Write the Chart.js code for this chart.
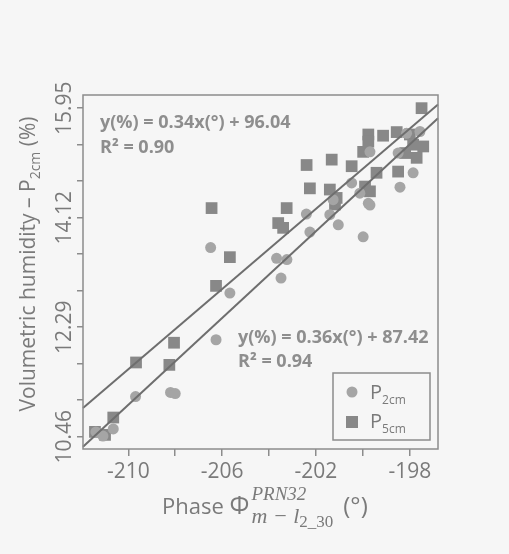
<!DOCTYPE html>
<html>

<head>
    <meta charset="utf-8">
    <title>Phase vs humidity</title>
    <script src="https://cdn.jsdelivr.net/npm/chart.js@4.4.1/dist/chart.umd.min.js"></script>
    <style>
        body { margin: 0; background: #f6f6f6; }
    </style>
</head>

<body>
    <canvas id="myChart" width="509" height="554"></canvas>
    <script>
        // P2cm (circles) - phase (deg) / humidity (%)
        const p2X = [-206.49, -206.26, -205.67, -208.2, -208.0, -209.69, -210.64, -211.38, -211.08,
            -203.68, -203.24, -203.49, -202.41, -202.26, -201.05, -201.41, -199.99, -199.77, -200.13,
            -200.48, -199.70, -198.42, -197.86, -198.50, -197.57, -198.14, -201.27, -199.70];
        const p2Y = [13.62, 12.08, 12.86, 11.20, 11.18, 11.13, 10.59, 10.54, 10.47,
            13.44, 13.42, 13.11, 14.18, 13.88, 14.00, 14.17, 13.80, 14.36, 14.53,
            14.70, 15.22, 14.63, 14.87, 15.20, 15.56, 15.53, 14.42, 14.33];

        // P5cm (squares)
        const p5X = [-197.50, -199.77, -199.77, -199.14, -198.56, -198.00, -199.99, -201.33, -202.40,
            -200.48, -202.26, -201.41, -201.12, -201.19, -199.91, -199.70, -199.42, -198.50, -197.86,
            -197.43, -197.71, -203.25, -203.61, -203.40, -206.45, -205.67, -206.26, -208.05, -209.67,
            -208.25, -210.64, -211.42, -210.99, -198.20];
        const p5Y = [15.95, 15.51, 15.39, 15.49, 15.55, 15.51, 15.22, 15.09, 15.00,
            14.98, 14.61, 14.59, 14.45, 14.34, 14.64, 14.56, 14.87, 14.89, 15.34,
            15.31, 15.12, 14.28, 14.03, 13.95, 14.28, 13.46, 12.98, 12.03, 11.70,
            11.66, 10.78, 10.54, 10.49, 15.20];

        // trend lines (ends)
        const fitX = [-211.93, -196.8];
        const fit5Y = [10.94, 16.01];
        const fit2Y = [10.29, 15.78];

        const xTicks = [-210, -208, -206, -204, -202, -200, -198];
        const xLabels = ['-210', '', '-206', '', '-202', '', '-198'];
        const yTicks = [10.46, 11.07, 11.68, 12.29, 12.90, 13.51, 14.12, 14.73, 15.34, 15.95];
        const yLabels = ['10.46', '', '', '12.29', '', '', '14.12', '', '', '15.95'];

        const eq5 = ['y(%) = 0.34x(°) + 96.04', 'R² = 0.90'];
        const eq2 = ['y(%) = 0.36x(°) + 87.42', 'R² = 0.94'];

        const grey = '#7a7a7a';
        const FONT = '"Open Sans", sans-serif';
        const MATH = '"Liberation Serif", serif';

        function pts(xs, ys) {
            return xs.map(function (x, i) { return { x: x, y: ys[i] }; });
        }

        // draws pieces of text one after another, each with its own font and shift
        function drawParts(ctx, parts, x, y) {
            let cx = x;
            parts.forEach(function (p) {
                ctx.font = p.font;
                ctx.fillText(p.text, cx, y + (p.dy || 0));
                cx += ctx.measureText(p.text).width;
            });
            return cx;
        }
        function partsWidth(ctx, parts) {
            let w = 0;
            parts.forEach(function (p) { ctx.font = p.font; w += ctx.measureText(p.text).width; });
            return w;
        }

        const extras = {
            id: 'extras',
            beforeDraw(chart) {
                const ctx = chart.ctx;
                ctx.save();
                ctx.fillStyle = '#f6f6f6';
                ctx.fillRect(0, 0, chart.width, chart.height);
                ctx.restore();
            },
            afterDraw(chart) {
                const ctx = chart.ctx;
                const a = chart.chartArea;
                const ys = chart.scales.y;
                ctx.save();

                // frame
                ctx.strokeStyle = '#8c8c8c';
                ctx.lineWidth = 1.5;
                ctx.strokeRect(a.left, a.top, a.right - a.left, a.bottom - a.top);

                // y tick labels (rotated)
                ctx.fillStyle = grey;
                ctx.font = '21px ' + FONT;
                ctx.textAlign = 'center';
                ctx.textBaseline = 'middle';
                yTicks.forEach(function (v, i) {
                    if (!yLabels[i]) return;
                    ctx.save();
                    ctx.translate(65, ys.getPixelForValue(v));
                    ctx.rotate(-Math.PI / 2);
                    ctx.fillText(yLabels[i], 0, 0);
                    ctx.restore();
                });

                // y title
                ctx.textAlign = 'left';
                ctx.textBaseline = 'alphabetic';
                const yParts = [
                    { text: 'Volumetric humidity – P', font: '21px ' + FONT },
                    { text: '2cm', font: '14px ' + FONT, dy: 5 },
                    { text: ' (%)', font: '21px ' + FONT }
                ];
                ctx.save();
                ctx.translate(35, 264);
                ctx.rotate(-Math.PI / 2);
                drawParts(ctx, yParts, -partsWidth(ctx, yParts) / 2, 0);
                ctx.restore();

                // x title
                let x0 = 162, base = 514;
                let cx = drawParts(ctx, [{ text: 'Phase ', font: '22px ' + FONT }, { text: 'Φ', font: '25px ' + FONT }], x0, base);
                ctx.font = 'italic 19px ' + MATH;
                ctx.fillText('PRN32', cx + 2, base - 14);
                const wSup = ctx.measureText('PRN32').width;
                const subEnd = drawParts(ctx, [
                    { text: 'm − l', font: 'italic 22px ' + MATH, dy: 9 },
                    { text: '2_30', font: '17px ' + MATH, dy: 13 }
                ], cx + 2, base);
                const after = Math.max(cx + 2 + wSup, subEnd) + 10;
                drawParts(ctx, [{ text: '(°)', font: '24px ' + FONT }], after, base);

                // equations
                ctx.fillStyle = '#8e8e8e';
                ctx.font = 'bold 18px ' + FONT;
                ctx.fillText(eq5[0], 100, 128);
                ctx.fillText(eq5[1], 100, 153);
                ctx.fillText(eq2[0], 238, 343);
                ctx.fillText(eq2[1], 238, 367);

                // legend
                ctx.strokeStyle = '#8c8c8c';
                ctx.lineWidth = 1.5;
                ctx.strokeRect(333, 373, 97, 67);
                ctx.fillStyle = '#a5a5a5';
                ctx.beginPath();
                ctx.arc(352, 392, 5.5, 0, Math.PI * 2);
                ctx.fill();
                ctx.fillStyle = '#888888';
                ctx.fillRect(346, 416, 12, 12);
                ctx.fillStyle = grey;
                drawParts(ctx, [{ text: 'P', font: '20px ' + FONT }, { text: '2cm', font: '12px ' + FONT, dy: 5 }], 370, 399);
                drawParts(ctx, [{ text: 'P', font: '20px ' + FONT }, { text: '5cm', font: '12px ' + FONT, dy: 5 }], 370, 428);

                ctx.restore();
            }
        };

        const config = {
            type: 'scatter',
            data: {
                datasets: [
                    {
                        label: 'fit5', data: pts(fitX, fit5Y), showLine: true,
                        borderColor: '#6e6e6e', borderWidth: 2, pointRadius: 0
                    },
                    {
                        label: 'fit2', data: pts(fitX, fit2Y), showLine: true,
                        borderColor: '#6e6e6e', borderWidth: 2, pointRadius: 0
                    },
                    {
                        label: 'P2cm', data: pts(p2X, p2Y), pointStyle: 'circle',
                        pointRadius: 5.5, backgroundColor: '#a5a5a5', borderWidth: 0
                    },
                    {
                        label: 'P5cm', data: pts(p5X, p5Y), pointStyle: 'rect',
                        pointRadius: 8.3, backgroundColor: '#888888', borderWidth: 0
                    }
                ]
            },
            options: {
                responsive: false,
                animation: false,
                clip: false,
                layout: { padding: { left: 0, top: 95, right: 71, bottom: 0 } },
                plugins: { legend: { display: false }, tooltip: { enabled: false } },
                scales: {
                    x: {
                        type: 'linear',
                        min: -211.93,
                        max: -196.8,
                        afterBuildTicks: function (scale) {
                            scale.ticks = xTicks.map(function (v) { return { value: v }; });
                        },
                        afterFit: function (scale) { scale.height = 105; },
                        border: { display: false },
                        grid: { drawOnChartArea: false, drawTicks: true, tickLength: 7, color: '#8c8c8c', lineWidth: 1.5 },
                        ticks: {
                            padding: 3,
                            color: grey,
                            font: { family: 'Open Sans', size: 21 },
                            maxRotation: 0,
                            autoSkip: false,
                            callback: function (v, i) { return xLabels[i]; }
                        }
                    },
                    y: {
                        type: 'linear',
                        min: 10.254,
                        max: 16.17,
                        afterBuildTicks: function (scale) {
                            scale.ticks = yTicks.map(function (v) { return { value: v }; });
                        },
                        afterFit: function (scale) { scale.width = 83; },
                        border: { display: false },
                        grid: { drawOnChartArea: false, drawTicks: true, tickLength: 6, color: '#8c8c8c', lineWidth: 1.5 },
                        ticks: {
                            autoSkip: false,
                            callback: function () { return ''; }
                        }
                    }
                }
            },
            plugins: [extras]
        };

        const myChart = new Chart(document.getElementById('myChart'), config);
    </script>
</body>

</html>
